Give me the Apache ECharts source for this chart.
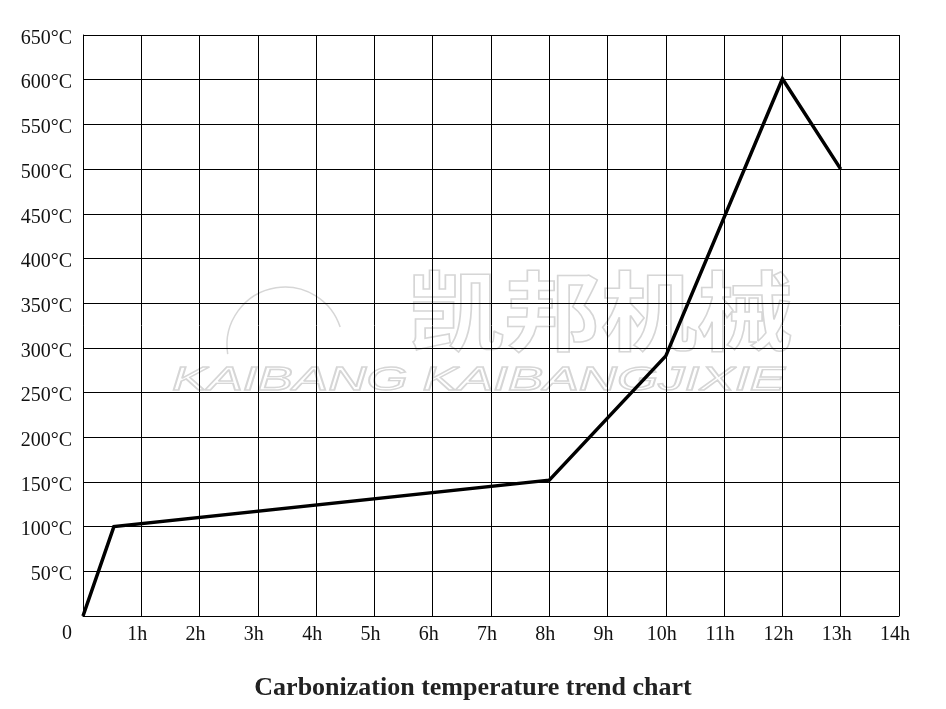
<!DOCTYPE html>
<html>
<head>
<meta charset="utf-8">
<script src="https://cdn.jsdelivr.net/npm/echarts@6/dist/echarts.min.js"></script>
<style>
html,body{margin:0;padding:0;background:#fff;}
#chart{width:946px;height:709px;}
</style>
</head>
<body>
<div id="chart"></div>
<script>
// Data
var hours = [0, 0.53, 8, 10, 12, 13];
var temperatures = [0, 100, 152, 291, 601, 500];
var xTickMax = 14;
var yTickMax = 650;
var titleText = 'Carbonization temperature trend chart';
var watermarkCn = '凯邦机械';
var watermarkEn = 'KAIBANG KAIBANGJIXIE';

var seriesData = hours.map(function (h, i) { return [h, temperatures[i]]; });
var serif = '"Liberation Serif", "Times New Roman", serif';

var chart = echarts.init(document.getElementById('chart'));
chart.setOption({
  backgroundColor: '#ffffff',
  animation: false,
  title: {
    text: titleText,
    left: 'center',
    top: 670,
    textStyle: { fontFamily: serif, fontWeight: 'bold', fontSize: 26, color: '#222' }
  },
  grid: { left: 83, right: 47, top: 35, bottom: 93, containLabel: false },
  graphic: [
    {
      type: 'text', z: -1, x: 408, y: 268, scaleX: 1.12, scaleY: 1,
      style: { text: watermarkCn, font: 'bold 86px "Noto Sans CJK SC", sans-serif',
               fill: 'rgba(255,255,255,0)', stroke: '#d6d6d6', lineWidth: 1.5,
               align: 'left', verticalAlign: 'top' }
    },
    {
      type: 'text', z: -1, x: 172, y: 364, scaleX: 1.56, scaleY: 1,
      style: { text: watermarkEn, font: 'italic 34px "Liberation Sans", sans-serif',
               fill: 'rgba(255,255,255,0)', stroke: '#d6d6d6', lineWidth: 1.3,
               align: 'left', verticalAlign: 'top' }
    },
    {
      type: 'arc', z: -1,
      shape: { cx: 285, cy: 345, r: 58, startAngle: Math.PI * 0.95, endAngle: Math.PI * 1.9 },
      style: { stroke: '#d6d6d6', lineWidth: 1.5, fill: null }
    }
  ],
  xAxis: {
    type: 'value', min: 0, max: xTickMax, interval: 1,
    axisLine: { show: true, lineStyle: { color: '#000', width: 1 } },
    axisTick: { show: false },
    splitLine: { show: true, lineStyle: { color: '#000', width: 1 } },
    axisLabel: {
      margin: 9,
      fontFamily: serif, fontSize: 20, color: '#111',
      padding: [0, 8, 0, 0],
      formatter: function (v) { return v === 0 ? '' : v + 'h'; }
    }
  },
  yAxis: {
    type: 'value', min: 0, max: yTickMax, interval: 50,
    axisLine: { show: true, lineStyle: { color: '#000', width: 1 } },
    axisTick: { show: false },
    splitLine: { show: true, lineStyle: { color: '#000', width: 1 } },
    axisLabel: {
      margin: 11,
      fontFamily: serif, fontSize: 20, color: '#111',
      formatter: function (v) { return v === 0 ? '{z|0}' : '{a|' + v + '°C}'; },
      rich: {
        a: { fontFamily: serif, fontSize: 20, color: '#111', padding: [7, 0, 0, 0] },
        z: { fontFamily: serif, fontSize: 20, color: '#111', padding: [35, 0, 0, 0] }
      }
    }
  },
  series: [{
    type: 'line',
    data: seriesData,
    symbol: 'none',
    lineStyle: { color: '#000', width: 3.5, join: 'miter' },
    z: 5
  }]
});
</script>
</body>
</html>
